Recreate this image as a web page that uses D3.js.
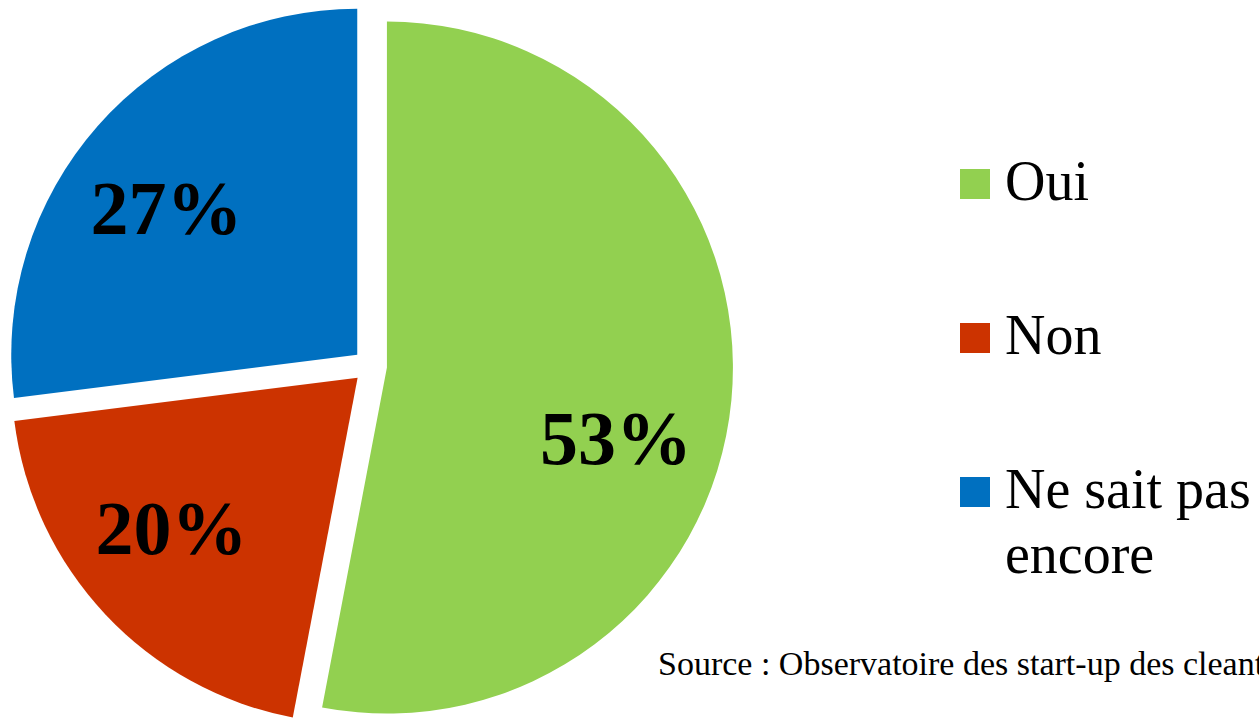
<!DOCTYPE html>
<html>
<head>
<meta charset="utf-8">
<script src="https://cdn.jsdelivr.net/npm/d3@7"></script>
<style>
  html, body { margin: 0; padding: 0; background: #ffffff; overflow: hidden; }
  svg { display: block; }
</style>
</head>
<body>
<svg id="chart" width="1259" height="718"></svg>
<script>
const categories = ["Oui", "Non", "Ne sait pas encore"];
const legendLines = [["Oui"], ["Non"], ["Ne sait pas", "encore"]];
const values = [53, 20, 27];
const valueLabels = ["53%", "20%", "27%"];
const colors = ["#92D050", "#CC3300", "#0070C0"];
const sourceText = "Source : Observatoire des start-up des cleantech";

const svg = d3.select("#chart");
const W = 1259, H = 718;
const cx = 370, cy = 366, R = 346, explode = 17;
const labelR = 240;
const labelAngleShift = [12, 4, -4].map(d => d * Math.PI / 180);

const pie = d3.pie().sort(null).value(d => d)(values);
const arc = d3.arc().innerRadius(0).outerRadius(R);

const g = svg.append("g").attr("transform", `translate(${cx},${cy})`);

const slices = g.selectAll("g.slice").data(pie).join("g")
  .attr("class", "slice")
  .attr("transform", d => {
    const a = (d.startAngle + d.endAngle) / 2;
    return `translate(${explode * Math.sin(a)},${-explode * Math.cos(a)})`;
  });

slices.append("path")
  .attr("d", arc)
  .attr("fill", (d, i) => colors[i]);

const fs = 76;
slices.append("text")
  .attr("x", (d, i) => labelR * Math.sin((d.startAngle + d.endAngle) / 2 + labelAngleShift[i]))
  .attr("y", (d, i) => -labelR * Math.cos((d.startAngle + d.endAngle) / 2 + labelAngleShift[i]) + fs * 0.33)
  .attr("text-anchor", "middle")
  .attr("font-family", "'Liberation Serif', 'DejaVu Serif', serif")
  .attr("font-weight", "bold")
  .attr("font-size", fs)
  .attr("fill", "#000")
  .text((d, i) => valueLabels[i]);

// Legend
const legendY = d3.scalePoint().domain(categories).range([200, 508]);
const leg = svg.append("g");
const items = leg.selectAll("g").data(categories).join("g")
  .attr("transform", d => `translate(960,${legendY(d)})`);
items.append("rect")
  .attr("x", 0).attr("y", -31).attr("width", 30).attr("height", 30)
  .attr("fill", (d, i) => colors[i]);
items.append("text")
  .attr("x", 45).attr("y", 0)
  .attr("font-family", "'Liberation Serif', 'DejaVu Serif', serif")
  .attr("font-size", 56)
  .attr("fill", "#000")
  .selectAll("tspan").data((d, i) => legendLines[i]).join("tspan")
  .attr("x", 45)
  .attr("dy", (d, j) => j === 0 ? 0 : 65)
  .text(d => d);

svg.append("text")
  .attr("x", 658).attr("y", 675)
  .attr("font-family", "'Liberation Serif', 'DejaVu Serif', serif")
  .attr("font-size", 34)
  .attr("fill", "#000")
  .text(sourceText);
</script>
</body>
</html>
